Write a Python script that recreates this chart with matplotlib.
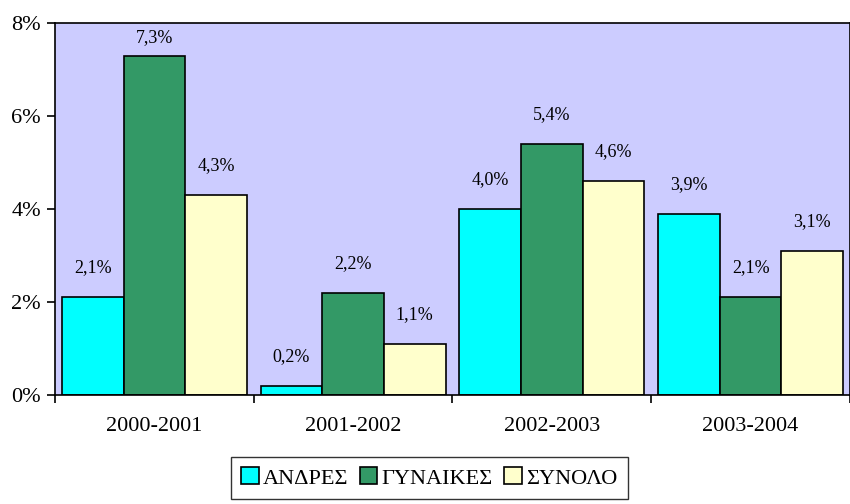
import numpy as np
import matplotlib.pyplot as plt
from matplotlib.ticker import FixedLocator

plt.rcParams['font.family'] = ['Liberation Serif', 'DejaVu Serif']

years = ['2000-2001', '2001-2002', '2002-2003', '2003-2004']
andres = [2.1, 0.2, 4.0, 3.9]
gynaikes = [7.3, 2.2, 5.4, 2.1]
synolo = [4.3, 1.1, 4.6, 3.1]
series_names = ['ΑΝΔΡΕΣ', 'ΓΥΝΑΙΚΕΣ', 'ΣΥΝΟΛΟ']
colors = ['#00FFFF', '#339966', '#FFFFCC']

fig = plt.figure(figsize=(8.5, 5.04), dpi=100)
ax = fig.add_axes([0.0647, 0.2163, 0.9353, 0.7381])
ax.set_facecolor('#CCCCFF')

ymax = 8
# points per data unit (axes height in points / ymax), used to keep labels inside the plot
pts_per_unit = 0.7381 * 5.04 * 72 / ymax

x = np.arange(len(years))
w = 0.31
for i, (vals, name, c) in enumerate(zip([andres, gynaikes, synolo], series_names, colors)):
    bars = ax.bar(x + (i - 1) * w, vals, w, color=c, edgecolor='black', linewidth=1.2, label=name)
    for b, v in zip(bars, vals):
        off = min(15, (ymax - v) * pts_per_unit - 17)
        ax.annotate(f'{v:.1f}%'.replace('.', ','), (b.get_x() + b.get_width() / 2, v),
                    xytext=(0, off), textcoords='offset points',
                    ha='center', va='bottom', fontsize=13)

ax.set_xlim(-0.5, 3.5)
ax.set_ylim(0, ymax)
ax.set_yticks([0, 2, 4, 6, 8])
ax.set_yticklabels(['0%', '2%', '4%', '6%', '8%'], fontsize=16)
ax.set_xticks(x)
ax.set_xticklabels(years, fontsize=16)
ax.xaxis.set_minor_locator(FixedLocator([-0.5, 0.5, 1.5, 2.5, 3.5]))
ax.tick_params(axis='x', which='major', length=0, pad=16)
ax.tick_params(axis='x', which='minor', length=6, width=1.2, direction='out')
ax.tick_params(axis='y', length=6, width=1.2, direction='out', pad=4)
for s in ax.spines.values():
    s.set_linewidth(1.2)

leg = fig.legend(loc='lower center', bbox_to_anchor=(0.505, 0.002), ncol=3, fontsize=16,
                 frameon=True, fancybox=False, edgecolor='black', handlelength=0.8,
                 handleheight=0.8, handletextpad=0.2, columnspacing=0.5, borderpad=0.45,
                 borderaxespad=0.2)
leg.get_frame().set_linewidth(1.0)

fig.savefig('out.png', dpi=100)
